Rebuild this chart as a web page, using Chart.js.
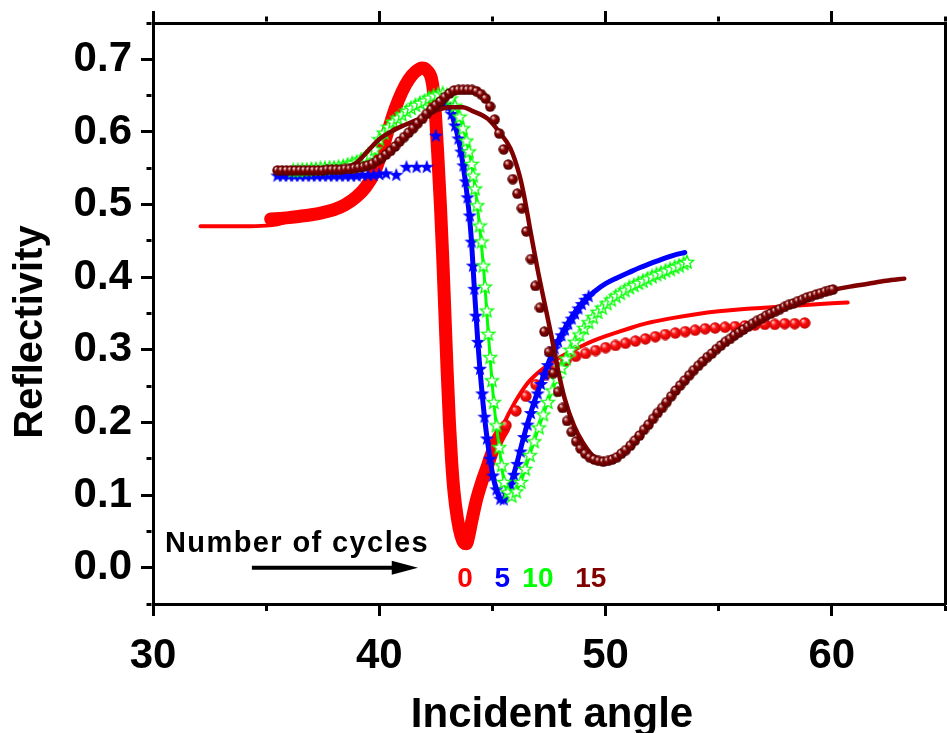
<!DOCTYPE html>
<html>
<head>
<meta charset="utf-8">
<script src="https://cdn.jsdelivr.net/npm/chart.js@4.4.0/dist/chart.umd.min.js"></script>
<style>
html,body{margin:0;padding:0;background:#ffffff;}
canvas{display:block;}
</style>
</head>
<body>
<canvas id="c" width="947" height="733"></canvas>
<script>
// ---------------- DATA ----------------
// 0 cycles: dense measured band, sparse measured points, fitted curve
const angle0Band = [35.2,35.6,36.0,36.5,37.0,37.5,38.0,38.5,39.0,39.4,39.8,40.1,40.4,40.7,41.0,41.3,41.6,41.9,42.1,42.3,42.4,42.5,42.6,42.7,42.8,42.9,43.0,43.1,43.2,43.3,43.45,43.6,43.75,43.85,43.95,44.1,44.3,44.55,44.8,45.0,45.25,45.5];
const refl0Band  = [0.480,0.481,0.482,0.484,0.486,0.489,0.493,0.500,0.511,0.524,0.545,0.572,0.603,0.632,0.655,0.672,0.683,0.688,0.685,0.674,0.655,0.615,0.560,0.500,0.430,0.350,0.270,0.200,0.145,0.105,0.068,0.045,0.034,0.033,0.043,0.066,0.094,0.120,0.142,0.160,0.178,0.192];
const angle0 = [45.60,46.04,46.48,46.92,47.36,47.80,48.24,48.68,49.12,49.56,50.00,50.44,50.88,51.32,51.76,52.20,52.64,53.08,53.52,53.96,54.40,54.84,55.28,55.72,56.16,56.60,57.04,57.48,57.92,58.36,58.80];
const refl0  = [0.196,0.216,0.236,0.252,0.266,0.277,0.285,0.291,0.295,0.299,0.303,0.306,0.309,0.312,0.315,0.318,0.321,0.323,0.325,0.327,0.329,0.330,0.331,0.332,0.333,0.334,0.335,0.335,0.336,0.336,0.337];
const fitAngle0 = [32.1,33.0,34.0,35.0,35.5,36.0,37.0,38.0,38.5,39.0,39.5,40.0,40.5,41.0,41.5,41.9,42.2,42.4,42.6,42.8,43.0,43.2,43.4,43.6,43.8,44.0,44.3,44.6,45.0,45.5,46.0,46.5,47.0,47.5,48.0,48.5,49.0,49.5,50.0,50.5,51.0,51.5,52.0,53.0,54.0,55.0,56.0,57.0,58.0,59.0,60.0,60.7];
const fitRefl0  = [0.470,0.470,0.470,0.471,0.473,0.477,0.483,0.492,0.499,0.510,0.527,0.558,0.612,0.653,0.679,0.687,0.680,0.656,0.560,0.430,0.270,0.145,0.075,0.042,0.033,0.052,0.092,0.124,0.160,0.198,0.228,0.252,0.268,0.280,0.290,0.298,0.306,0.313,0.319,0.324,0.329,0.334,0.338,0.344,0.349,0.353,0.356,0.358,0.360,0.362,0.364,0.365];

// 5 cycles
const angle5 = [35.5,35.75,36.0,36.25,36.5,36.75,37.0,37.25,37.5,37.75,38.0,38.25,38.5,38.75,39.0,39.25,39.5,39.75,40.0,40.3,40.75,41.2,41.65,42.1,42.5,42.85,43.1,43.2,43.35,43.5,43.62,43.72,43.82,43.9,44.0,44.08,44.14,44.2,44.27,44.36,44.45,44.55,44.65,44.76,44.9,45.02,45.18,45.35,45.5,45.65,45.8,45.95,46.1,46.25,46.4,46.55,46.7,46.85,47.0,47.15,47.3,47.45,47.6,47.75,47.9,48.05,48.2,48.35,48.5,48.65,48.8,48.95,49.1,49.25];
const refl5  = [0.540,0.540,0.540,0.540,0.540,0.540,0.540,0.540,0.540,0.540,0.540,0.540,0.540,0.540,0.540,0.541,0.541,0.541,0.542,0.543,0.541,0.552,0.552,0.552,0.595,0.640,0.636,0.625,0.609,0.591,0.573,0.554,0.532,0.510,0.485,0.449,0.416,0.384,0.347,0.311,0.274,0.240,0.208,0.178,0.150,0.127,0.108,0.095,0.094,0.102,0.115,0.128,0.143,0.160,0.180,0.197,0.213,0.227,0.240,0.253,0.266,0.279,0.291,0.302,0.312,0.320,0.328,0.336,0.343,0.350,0.357,0.363,0.369,0.374];
const fitAngle5 = [42.9,43.1,43.3,43.5,43.7,43.9,44.05,44.2,44.35,44.5,44.65,44.8,45.0,45.2,45.4,45.55,45.7,45.9,46.1,46.4,46.7,47.0,47.5,48.0,48.5,49.0,49.5,50.0,50.5,51.0,51.5,52.0,52.5,53.0,53.5];
const fitRefl5  = [0.645,0.635,0.614,0.590,0.555,0.508,0.460,0.385,0.313,0.255,0.207,0.170,0.130,0.105,0.093,0.094,0.104,0.124,0.146,0.182,0.214,0.242,0.284,0.318,0.345,0.366,0.380,0.391,0.399,0.406,0.413,0.419,0.425,0.430,0.434];

// 10 cycles
const angle10 = [36.2,36.4,36.6,36.8,37.0,37.2,37.4,37.6,37.8,38.0,38.2,38.4,38.6,38.8,39.0,39.2,39.4,39.6,39.8,40.0,40.2,40.4,40.6,40.8,41.0,41.2,41.4,41.6,41.8,42.0,42.2,42.4,42.6,42.8,43.0,43.15,43.35,43.55,43.7,43.85,43.96,44.08,44.15,44.23,44.33,44.43,44.52,44.6,44.67,44.75,44.82,44.9,44.98,45.06,45.18,45.3,45.41,45.52,45.68,45.85,46.05,46.25,46.45,46.65,46.85,47.05,47.25,47.45,47.65,47.85,48.05,48.25,48.45,48.65,48.85,49.05,49.25,49.45,49.65,49.85,50.05,50.25,50.45,50.65,50.85,51.05,51.25,51.45,51.65,51.85,52.05,52.25,52.45,52.65,52.85,53.05,53.25,53.45,53.6];
const refl10  = [0.547,0.547,0.548,0.548,0.549,0.549,0.550,0.550,0.551,0.551,0.552,0.553,0.555,0.557,0.559,0.562,0.565,0.569,0.576,0.590,0.599,0.607,0.614,0.619,0.624,0.629,0.633,0.637,0.640,0.643,0.647,0.650,0.652,0.653,0.651,0.646,0.636,0.621,0.605,0.588,0.573,0.556,0.540,0.522,0.499,0.471,0.449,0.416,0.387,0.354,0.322,0.290,0.258,0.228,0.196,0.166,0.141,0.118,0.104,0.099,0.105,0.118,0.136,0.155,0.174,0.193,0.211,0.228,0.244,0.260,0.275,0.288,0.300,0.311,0.321,0.330,0.338,0.345,0.352,0.358,0.364,0.369,0.374,0.378,0.382,0.386,0.389,0.392,0.395,0.398,0.401,0.404,0.406,0.409,0.411,0.414,0.416,0.419,0.421];
const fitAngle10 = [36.2,37.0,38.0,39.0,39.6,40.0,40.6,41.2,41.8,42.4,42.8,43.15,43.55,43.85,44.08,44.33,44.6,44.82,45.06,45.3,45.52,45.85,46.25,46.65,47.05,47.45,47.85,48.25,48.65,49.05,49.65,50.25,50.85,51.45,52.05,52.65,53.25,53.6];
const fitRefl10  = [0.547,0.549,0.551,0.559,0.569,0.590,0.614,0.629,0.640,0.650,0.653,0.646,0.621,0.588,0.556,0.499,0.416,0.322,0.228,0.166,0.118,0.099,0.118,0.155,0.193,0.228,0.260,0.288,0.311,0.330,0.352,0.369,0.382,0.392,0.401,0.409,0.416,0.421];

// 15 cycles
const angle15 = [35.5,35.7,35.9,36.1,36.3,36.5,36.7,36.9,37.1,37.3,37.5,37.7,37.9,38.1,38.3,38.5,38.7,38.9,39.1,39.3,39.5,39.7,39.9,40.1,40.3,40.5,40.7,40.9,41.1,41.3,41.5,41.7,41.9,42.1,42.3,42.5,42.7,42.9,43.1,43.3,43.5,43.7,43.9,44.1,44.3,44.5,44.7,44.9,45.1,45.3,45.5,45.7,45.9,46.1,46.3,46.5,46.7,46.9,47.1,47.3,47.5,47.7,47.9,48.1,48.3,48.5,48.7,48.9,49.1,49.3,49.5,49.7,49.9,50.1,50.3,50.5,50.7,50.9,51.1,51.3,51.5,51.7,51.9,52.1,52.3,52.5,52.7,52.9,53.1,53.3,53.5,53.7,53.9,54.1,54.3,54.5,54.7,54.9,55.1,55.3,55.5,55.7,55.9,56.1,56.3,56.5,56.7,56.9,57.1,57.3,57.5,57.7,57.9,58.1,58.3,58.5,58.7,58.9,59.1,59.3,59.5,59.7,59.9,60.05];
const refl15  = [0.547,0.547,0.547,0.547,0.547,0.547,0.547,0.547,0.547,0.547,0.547,0.548,0.548,0.548,0.548,0.549,0.549,0.550,0.551,0.552,0.554,0.556,0.560,0.564,0.569,0.574,0.580,0.587,0.593,0.599,0.605,0.612,0.618,0.625,0.631,0.637,0.642,0.648,0.653,0.657,0.658,0.658,0.658,0.658,0.656,0.652,0.646,0.635,0.617,0.598,0.576,0.555,0.535,0.515,0.495,0.463,0.425,0.388,0.358,0.325,0.297,0.268,0.242,0.220,0.202,0.187,0.174,0.164,0.157,0.152,0.149,0.147,0.146,0.147,0.149,0.152,0.157,0.162,0.168,0.175,0.182,0.190,0.197,0.205,0.213,0.220,0.228,0.236,0.244,0.251,0.258,0.265,0.272,0.278,0.284,0.290,0.295,0.301,0.306,0.311,0.315,0.320,0.324,0.328,0.332,0.336,0.340,0.343,0.347,0.350,0.353,0.356,0.359,0.362,0.364,0.367,0.369,0.372,0.374,0.376,0.378,0.380,0.382,0.383];
const fitAngle15 = [35.5,37.0,38.0,38.5,39.0,39.5,40.0,40.5,41.0,41.7,42.4,43.1,43.7,44.1,44.8,45.3,45.8,46.2,46.4,46.7,47.0,47.3,47.6,47.9,48.2,48.6,49.0,49.5,49.9,50.4,51.0,51.5,52.0,52.5,53.0,53.5,54.0,54.5,55.0,55.5,56.0,56.5,57.0,57.5,58.0,58.5,59.0,59.5,60.0,60.8,61.6,62.4,63.2];
const fitRefl15  = [0.546,0.546,0.547,0.550,0.558,0.574,0.590,0.600,0.608,0.617,0.628,0.634,0.634,0.629,0.618,0.600,0.577,0.540,0.512,0.460,0.410,0.365,0.320,0.272,0.232,0.196,0.172,0.152,0.146,0.150,0.163,0.180,0.200,0.220,0.240,0.258,0.275,0.290,0.303,0.315,0.326,0.336,0.345,0.353,0.360,0.367,0.373,0.378,0.382,0.387,0.391,0.395,0.398];

const xTicksMajor = [30, 40, 50, 60];
const yTicksMajor = [0.0, 0.1, 0.2, 0.3, 0.4, 0.5, 0.6, 0.7];
const cycleLabels = ['0', '5', '10', '15'];
const noteText = 'Number of cycles';
const xTitle = 'Incident angle';
const yTitle = 'Reflectivity';

// ---------------- STYLE ----------------
const FONT = '"Liberation Sans", Arial, Helvetica, sans-serif';
const RED = '#ff0000', BLUE = '#0000ff', GREEN = '#00ff00', MAROON = '#800000';
const cycleColors = [RED, BLUE, GREEN, MAROON];

function makeBall(d, hi, mid, edge) {
  const c = document.createElement('canvas');
  c.width = d; c.height = d;
  const g = c.getContext('2d');
  const r = d / 2;
  const grad = g.createRadialGradient(r - r * 0.35, r - r * 0.4, 0.3, r, r, r);
  grad.addColorStop(0, hi);
  grad.addColorStop(0.4, mid);
  grad.addColorStop(1, edge);
  g.fillStyle = grad;
  g.beginPath(); g.arc(r, r, r - 0.3, 0, Math.PI * 2); g.fill();
  return c;
}
function makeStar(size, R, rIn, fill, stroke, lw) {
  const c = document.createElement('canvas');
  c.width = size; c.height = size;
  const g = c.getContext('2d');
  const cx = size / 2, cy = size / 2 + 0.5;
  g.beginPath();
  for (let i = 0; i < 10; i++) {
    const a = -Math.PI / 2 + i * Math.PI / 5;
    const rr = (i % 2 === 0) ? R : rIn;
    const px = cx + rr * Math.cos(a), py = cy + rr * Math.sin(a);
    if (i === 0) g.moveTo(px, py); else g.lineTo(px, py);
  }
  g.closePath();
  g.fillStyle = fill; g.fill();
  if (stroke) { g.strokeStyle = stroke; g.lineWidth = lw; g.lineJoin = 'miter'; g.stroke(); }
  return c;
}
const redBall = makeBall(12, '#ffd0d0', '#ff1010', '#c40000');
const maroonBall = makeBall(11, '#f2dcdc', '#850000', '#4c0000');
const blueStar = makeStar(16, 7.5, 3.1, BLUE, null, 0);
const greenStar = makeStar(16, 7, 3, '#ffffff', GREEN, 1.3);

const pts = (xs, ys) => xs.map((v, i) => ({ x: v, y: ys[i] }));
const isMajorX = v => xTicksMajor.includes(Math.round(v));
const isMajorY = v => yTicksMajor.some(m => Math.abs(m - v) < 1e-6);

function lineSet(label, xs, ys, color, width, order) {
  return { label, data: pts(xs, ys), showLine: true, borderColor: color, backgroundColor: color,
           borderWidth: width, pointRadius: 0, pointHoverRadius: 0, cubicInterpolationMode: 'monotone',
           borderCapStyle: 'round', borderJoinStyle: 'round', fill: false, order };
}
function pointSet(label, xs, ys, img, order) {
  return { label, data: pts(xs, ys), showLine: false, pointStyle: img, pointRadius: 6,
           pointHoverRadius: 6, order };
}

const tickFont = { family: FONT, size: 42, weight: 'bold' };
const gridBase = { drawOnChartArea: false, drawTicks: true, tickLength: 12, tickWidth: 3, tickColor: '#000' };
const border = { display: true, color: '#000', width: 3 };
const noPad = s => { s.paddingLeft = 0; s.paddingRight = 0; s.paddingTop = 0; s.paddingBottom = 0; };

// annotation + axis-title plugin
const annotations = {
  id: 'annotations',
  afterDraw(chart) {
    const { ctx, scales } = chart;
    const xs = scales.x, ys = scales.y;
    ctx.save();
    ctx.fillStyle = '#000';
    ctx.strokeStyle = '#000';
    // note text
    ctx.font = 'bold 29px ' + FONT;
    ctx.textAlign = 'left';
    ctx.textBaseline = 'alphabetic';
    try { ctx.letterSpacing = '1.4px'; } catch (e) {}
    ctx.fillText(noteText, xs.getPixelForValue(30.53), ys.getPixelForValue(0.0216));
    try { ctx.letterSpacing = '0px'; } catch (e) {}
    // arrow
    const ay = ys.getPixelForValue(0.0);
    const ax0 = xs.getPixelForValue(34.37), ax1 = xs.getPixelForValue(41.71), ahb = xs.getPixelForValue(40.55);
    ctx.lineWidth = 4;
    ctx.beginPath(); ctx.moveTo(ax0, ay); ctx.lineTo(ahb + 2, ay); ctx.stroke();
    ctx.beginPath(); ctx.moveTo(ax1, ay); ctx.lineTo(ahb, ay - 7); ctx.lineTo(ahb, ay + 7); ctx.closePath(); ctx.fill();
    // cycle labels
    ctx.font = 'bold 28px ' + FONT;
    ctx.textAlign = 'center';
    const lx = [43.79, 45.44, 47.01, 49.35];
    cycleLabels.forEach((t, i) => {
      ctx.fillStyle = cycleColors[i];
      ctx.fillText(t, xs.getPixelForValue(lx[i]), ys.getPixelForValue(-0.0266));
    });
    // axis titles
    ctx.fillStyle = '#000';
    ctx.font = 'bold 42px ' + FONT;
    ctx.textAlign = 'center';
    ctx.fillText(xTitle, (chart.chartArea.left + chart.chartArea.right) / 2 + 3, 727);
    ctx.save();
    ctx.translate(42, 332);
    ctx.rotate(-Math.PI / 2);
    ctx.font = 'bold 40px ' + FONT;
    ctx.fillText(yTitle, 0, 0);
    ctx.restore();
    ctx.restore();
  }
};

new Chart(document.getElementById('c'), {
  type: 'scatter',
  data: {
    datasets: [
      pointSet('15 cycles (measured)', angle15, refl15, maroonBall, 1),
      lineSet('15 cycles (fit)', fitAngle15, fitRefl15, MAROON, 4.5, 2),
      pointSet('10 cycles (measured)', angle10, refl10, greenStar, 3),
      lineSet('10 cycles (fit)', fitAngle10, fitRefl10, GREEN, 3, 4),
      pointSet('5 cycles (measured)', angle5, refl5, blueStar, 5),
      lineSet('5 cycles (fit)', fitAngle5, fitRefl5, BLUE, 5, 6),
      pointSet('0 cycles (measured)', angle0, refl0, redBall, 7),
      lineSet('0 cycles (measured, dense)', angle0Band, refl0Band, RED, 13, 8),
      lineSet('0 cycles (fit)', fitAngle0, fitRefl0, RED, 4, 9)
    ]
  },
  options: {
    responsive: false,
    animation: false,
    devicePixelRatio: 1,
    layout: { autoPadding: false, padding: { left: 0, right: 2, top: 11, bottom: 0 } },
    plugins: { legend: { display: false }, tooltip: { enabled: false } },
    events: [],
    scales: {
      x: {
        type: 'linear', position: 'bottom', min: 30, max: 65,
        ticks: { stepSize: 5, autoSkip: false, maxRotation: 0, minRotation: 0, padding: 15, color: '#000', font: tickFont,
                 callback: v => isMajorX(v) ? String(Math.round(v)) : '' },
        grid: Object.assign({}, gridBase, { tickBorderDash: c => (c.tick && !isMajorX(c.tick.value)) ? [5, 100] : [] }),
        border,
        afterFit: s => { s.height = 129; noPad(s); }
      },
      x2: {
        type: 'linear', position: 'top', min: 30, max: 65,
        ticks: { stepSize: 5, display: false },
        grid: Object.assign({}, gridBase, { tickBorderDash: c => (c.tick && !isMajorX(c.tick.value)) ? [0, 5.5, 5, 100] : [] }),
        border,
        afterFit: s => { s.height = 12; noPad(s); }
      },
      y: {
        type: 'linear', position: 'left', min: -0.05, max: 0.75,
        ticks: { stepSize: 0.05, autoSkip: false, padding: 9, color: '#000', font: tickFont,
                 callback: v => isMajorY(v) ? v.toFixed(1) : '' },
        grid: Object.assign({}, gridBase, { tickBorderDash: c => (c.tick && !isMajorY(c.tick.value)) ? [0, 5.5, 5, 100] : [] }),
        border,
        afterFit: s => { s.width = 153; noPad(s); }
      },
      y2: {
        type: 'linear', position: 'right', min: -0.05, max: 0.75,
        ticks: { display: false },
        grid: { drawOnChartArea: false, drawTicks: false },
        border,
        afterFit: s => { s.width = 0; noPad(s); }
      }
    }
  },
  plugins: [annotations]
});
</script>
</body>
</html>
